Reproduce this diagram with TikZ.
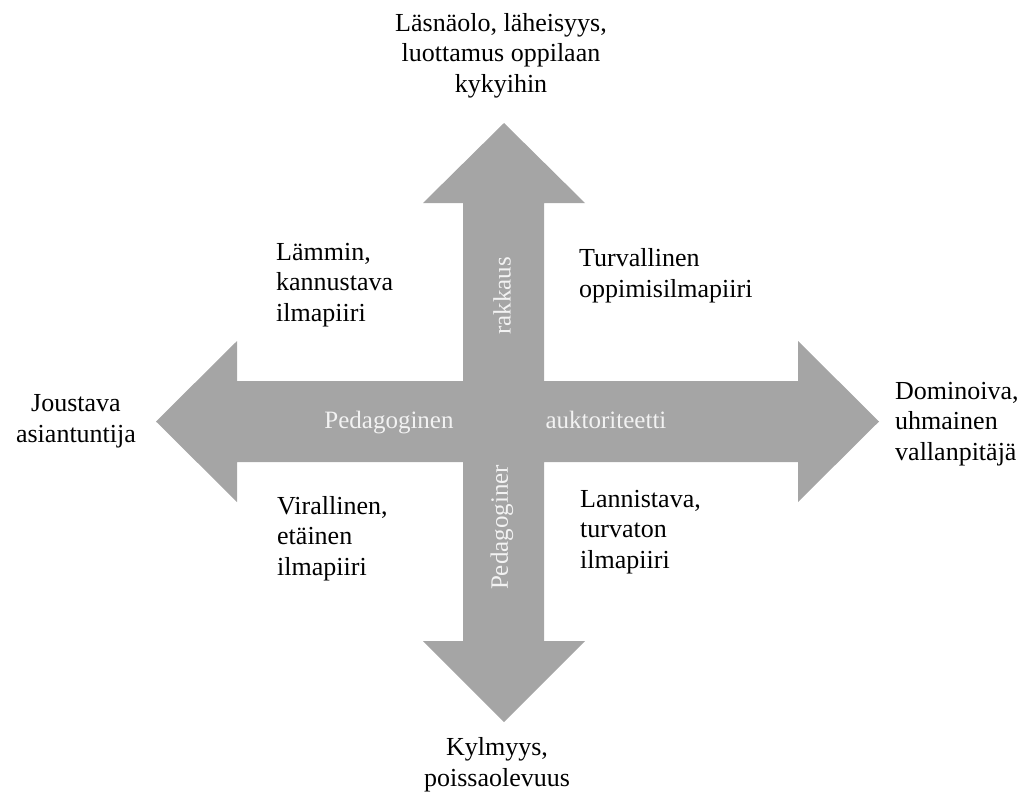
\documentclass[tikz,border=0pt]{standalone}
\usepackage{fontspec}
\setmainfont{Liberation Serif}
\definecolor{arrowgray}{HTML}{A5A5A5}
\definecolor{softwhite}{HTML}{F2F2F2}
\tikzset{
  lbl/.style={font=\fontsize{26}{30.5}\selectfont, inner sep=0pt, text=black},
  lblL/.style={lbl, align=left, anchor=base west},
  lblC/.style={lbl, align=center, anchor=base},
  inlbl/.style={font=\fontsize{25}{30}\selectfont, inner sep=0pt, text=softwhite},
  crossarrow/.style={fill=arrowgray, draw=none}
}
\begin{document}
\begin{tikzpicture}[x=1pt,y=-1pt]
\useasboundingbox (0,0) rectangle (1036,796);
% cross-shaped four-way arrow
\fill[crossarrow] (504,123) -- (585,203) -- (544,203) -- (544,381) -- (798,381) -- (798,341)
  -- (879,421.5) -- (798,502) -- (798,462) -- (544,462) -- (544,641) -- (585,641)
  -- (504,722) -- (423,641) -- (463,641) -- (463,462) -- (237,462) -- (237,502)
  -- (156,421.5) -- (237,341) -- (237,381) -- (463,381) -- (463,203) -- (423,203) -- cycle;
% texts inside the arrows
\node[inlbl, anchor=base] (ped) at (389,428) {Pedagoginen};
\node[inlbl, anchor=base] (auk) at (606,428) {auktoriteetti};
\node[inlbl, rotate=90] (rak) at (502,296) {rakkaus};
\node[inlbl, rotate=90] (ped2) at (502,527.5) {Pedagoginer};
% outer labels (anchored at the baseline of their last line)
\node[lblC] (top) at (501,92) {Läsnäolo, läheisyys,\\luottamus oppilaan\\kykyihin};
\node[lblC] (left) at (76,442) {Joustava\\asiantuntija};
\node[lblL] (right) at (895,460) {Dominoiva,\\uhmainen\\vallanpitäjä};
\node[lblC] (bottom) at (497,786) {Kylmyys,\\poissaolevuus};
% quadrant labels
\node[lblL] (q1) at (276,321) {Lämmin,\\kannustava\\ilmapiiri};
\node[lblL] (q2) at (579,297) {Turvallinen\\oppimisilmapiiri};
\node[lblL] (q3) at (277,575) {Virallinen,\\etäinen\\ilmapiiri};
\node[lblL] (q4) at (580,568) {Lannistava,\\turvaton\\ilmapiiri};
\end{tikzpicture}
\end{document}
